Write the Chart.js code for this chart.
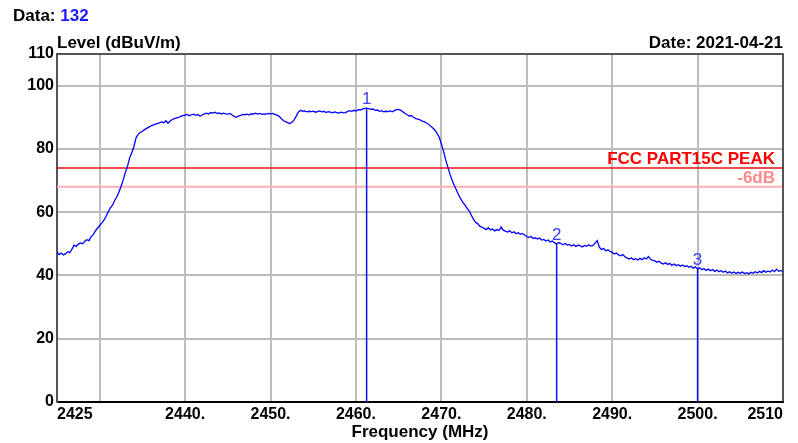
<!DOCTYPE html>
<html>
<head>
<meta charset="utf-8">
<script src="https://cdn.jsdelivr.net/npm/chart.js@4.4.1/dist/chart.umd.min.js"></script>
<style>
	html, body { margin: 0; padding: 0; background: #fff; }
	canvas { display: block; }
</style>
</head>
<body>
<canvas id="scanChart" width="798" height="443"></canvas>
<script>
// sweep: 2425 .. 2510 MHz, one reading every 0.25 MHz
const startFreq = 2425;
const stepMHz = 0.25;
const levels = [
	47.4, 46.6, 47.1, 46.5, 46.9, 47.5, 47.2, 48.3, 49.6, 49.2, 49.9, 50.3, 50.0, 50.8, 51.3, 51.0, 52.3, 53.0, 54.1, 55.0,
	55.8, 56.6, 57.5, 58.7, 60.1, 61.4, 62.2, 63.7, 64.8, 66.4, 68.1, 70.2, 72.5, 74.5, 77.1, 78.8, 80.7, 83.5, 84.6, 85.2,
	85.6, 86.1, 86.5, 86.9, 87.3, 87.5, 87.8, 88.0, 88.2, 88.5, 88.3, 88.9, 88.1, 88.8, 89.3, 89.6, 89.8, 90.0, 90.3, 90.5,
	90.7, 90.9, 90.5, 90.8, 91.0, 90.6, 90.9, 90.3, 90.7, 91.1, 91.3, 91.0, 91.5, 91.3, 91.6, 91.2, 91.4, 91.0, 91.3, 91.1,
	91.0, 91.2, 90.7, 90.3, 90.0, 90.4, 90.6, 90.9, 90.8, 91.0, 90.7, 91.1, 91.0, 91.3, 91.0, 91.2, 90.9, 91.1, 91.0, 91.2,
	91.1, 91.2, 90.9, 90.7, 90.3, 89.6, 89.0, 88.6, 88.3, 88.0, 88.4, 89.2, 90.3, 91.6, 92.2, 91.9, 92.0, 91.7, 91.9, 91.8,
	91.9, 91.6, 91.8, 92.0, 91.7, 91.9, 91.5, 91.8, 91.6, 91.4, 91.7, 91.5, 91.3, 91.6, 91.4, 91.5, 91.8, 92.1, 91.9, 92.2,
	92.0, 92.4, 92.3, 92.6, 92.8, 92.9, 92.7, 92.5, 92.6, 92.2, 92.3, 91.9, 92.1, 91.7, 91.9, 91.8, 92.0, 91.7, 92.1, 92.4,
	92.5, 92.2, 91.7, 91.2, 90.8, 90.4, 90.5, 90.0, 89.6, 89.4, 89.2, 88.8, 88.6, 88.2, 87.8, 87.2, 86.6, 85.9, 84.9, 83.7,
	81.6, 79.3, 76.6, 74.3, 72.1, 70.2, 68.5, 67.1, 65.6, 64.3, 63.2, 62.3, 61.3, 60.4, 59.1, 57.8, 56.8, 56.4, 55.6, 55.3,
	54.9, 54.5, 55.1, 54.4, 54.7, 54.1, 54.5, 54.2, 55.3, 54.3, 54.0, 53.7, 54.1, 53.5, 53.8, 53.2, 53.5, 53.0, 53.3, 52.8,
	52.3, 52.0, 52.4, 51.7, 51.9, 51.5, 51.8, 51.2, 51.4, 50.9, 51.2, 50.6, 50.9, 50.3, 50.0, 50.4, 50.1, 49.7, 50.1, 49.6,
	49.8, 49.3, 49.7, 49.2, 49.6, 49.4, 49.0, 49.5, 49.2, 49.7, 49.3, 49.5, 50.2, 51.0, 48.9, 48.2, 48.5, 47.8, 48.1, 47.6,
	47.3, 46.8, 47.1, 46.5, 46.2, 46.6, 45.9, 45.5, 45.2, 45.6, 45.0, 45.3, 44.9, 45.4, 45.0, 45.6, 45.2, 46.0, 45.1, 44.8,
	44.6, 44.2, 44.5, 43.9, 43.6, 44.0, 43.5, 43.8, 43.2, 43.6, 43.1, 43.4, 42.9, 43.3, 42.8, 43.1, 42.6, 42.9, 42.3, 42.7,
	42.0, 42.4, 41.8, 42.2, 41.6, 42.0, 41.5, 41.9, 41.3, 41.7, 41.2, 41.5, 41.0, 41.4, 40.8, 41.2, 40.7, 41.1, 40.6, 41.0,
	40.7, 41.1, 40.6, 40.9, 40.5, 41.0, 40.7, 41.2, 40.8, 41.3, 40.9, 41.5, 41.0, 41.4, 41.1, 41.7, 41.2, 42.0, 41.3, 41.6,
	41.2,
];

const limitLevels = [74, 68];
const limitNames = ['FCC PART15C PEAK', '-6dB'];
const limitColors = ['#e81010', '#ffb0b0'];
const limitTextColors = ['#ff0000', '#ff8a8a'];

const markerFreqs = [2461.25, 2483.5, 2500.0];
const markerLevels = [92.9, 50.0, 42.0];
const markerNames = ['1', '2', '3'];

const xTicks = [2425, 2430, 2440, 2450, 2460, 2470, 2480, 2490, 2500, 2510];
const xTickLabels = ['2425', '', '2440.', '2450.', '2460.', '2470.', '2480.', '2490.', '2500.', '2510'];
const yTicks = [0, 20, 40, 60, 80, 100, 110];

const dataNo = '132';
const testDate = '2021-04-21';

const FONT = '"Liberation Sans", Arial, sans-serif';
const gridColor = '#bcbcbc';

const trace = levels.map((v, i) => ({ x: startFreq + i * stepMHz, y: v }));

const datasets = [];
limitLevels.forEach((lv, i) => {
	datasets.push({
		label: limitNames[i],
		data: [{ x: xTicks[0], y: lv }, { x: xTicks[xTicks.length - 1], y: lv }],
		borderColor: limitColors[i],
		borderWidth: i === 0 ? 1.5 : 2,
		pointRadius: 0,
		order: 3,
	});
});
datasets.push({
	label: 'Level',
	data: trace,
	borderColor: '#0000ff',
	borderWidth: 1.3,
	pointRadius: 0,
	tension: 0,
	order: 2,
});
markerFreqs.forEach((f, i) => {
	datasets.push({
		label: 'M' + markerNames[i],
		data: [{ x: f, y: markerLevels[i] }, { x: f, y: 0 }],
		borderColor: '#1010ff',
		borderWidth: 1.5,
		pointRadius: 0,
		order: 1,
	});
});

const decorations = {
	id: 'decorations',
	beforeDraw(chart) {
		const ctx = chart.ctx;
		ctx.save();
		ctx.fillStyle = '#fff';
		ctx.fillRect(0, 0, chart.width, chart.height);
		ctx.restore();
	},
	afterDraw(chart) {
		const { ctx, chartArea: a, scales } = chart;
		ctx.save();

		// frame: top and right edges
		ctx.strokeStyle = '#333';
		ctx.lineWidth = 1.5;
		ctx.beginPath();
		ctx.moveTo(a.left, a.top);
		ctx.lineTo(a.right, a.top);
		ctx.lineTo(a.right, a.bottom);
		ctx.stroke();

		// header
		ctx.textBaseline = 'middle';
		ctx.textAlign = 'left';
		ctx.font = 'bold 17px ' + FONT;
		ctx.fillStyle = '#000';
		ctx.fillText('Data: ', 13, 16);
		const w = ctx.measureText('Data: ').width;
		ctx.fillStyle = '#1a1aff';
		ctx.fillText(dataNo, 13 + w, 16);

		ctx.fillStyle = '#000';
		ctx.fillText('Level (dBuV/m)', a.left, 43);
		ctx.textAlign = 'right';
		ctx.fillText('Date: ' + testDate, a.right, 43);

		ctx.textAlign = 'center';
		ctx.fillText('Frequency (MHz)', (a.left + a.right) / 2, 432);

		// limit captions
		ctx.textAlign = 'right';
		ctx.textBaseline = 'alphabetic';
		ctx.font = 'bold 17px ' + FONT;
		limitLevels.forEach((lv, i) => {
			ctx.fillStyle = limitTextColors[i];
			ctx.fillText(limitNames[i], a.right - 8, scales.y.getPixelForValue(lv) - 4);
		});

		// marker numbers
		ctx.textAlign = 'center';
		ctx.font = '17px ' + FONT;
		ctx.fillStyle = '#3a3aff';
		markerFreqs.forEach((f, i) => {
			ctx.fillText(markerNames[i], scales.x.getPixelForValue(f), scales.y.getPixelForValue(markerLevels[i]) - 4);
		});

		ctx.restore();
	},
};

window.scanChart = new Chart(document.getElementById('scanChart'), {
	type: 'line',
	data: { datasets: datasets },
	options: {
		responsive: false,
		animation: false,
		devicePixelRatio: 1,
		layout: { padding: { top: 54, right: 15, left: 0, bottom: 0 } },
		plugins: {
			legend: { display: false },
			tooltip: { enabled: false },
		},
		scales: {
			x: {
				type: 'linear',
				min: xTicks[0],
				max: xTicks[xTicks.length - 1],
				afterBuildTicks: (s) => {
					s.ticks = xTicks.map((v) => ({ value: v }));
				},
				afterFit: (s) => {
					s.height = 41;
				},
				ticks: {
					autoSkip: false,
					maxRotation: 0,
					align: 'inner',
					padding: 3,
					color: '#000',
					font: { family: FONT, size: 16, weight: 'bold' },
					callback: (v) => xTickLabels[xTicks.indexOf(v)],
				},
				grid: { color: gridColor, lineWidth: 2, drawTicks: false },
				border: { color: '#000', width: 2 },
			},
			y: {
				min: 0,
				max: 110,
				afterBuildTicks: (s) => {
					s.ticks = yTicks.map((v) => ({ value: v }));
				},
				afterFit: (s) => {
					s.width = 57;
				},
				ticks: {
					padding: 3,
					color: '#000',
					font: { family: FONT, size: 16, weight: 'bold' },
				},
				grid: { color: gridColor, lineWidth: 2, drawTicks: false },
				border: { color: '#555', width: 2 },
			},
		},
	},
	plugins: [decorations],
});
</script>
</body>
</html>
